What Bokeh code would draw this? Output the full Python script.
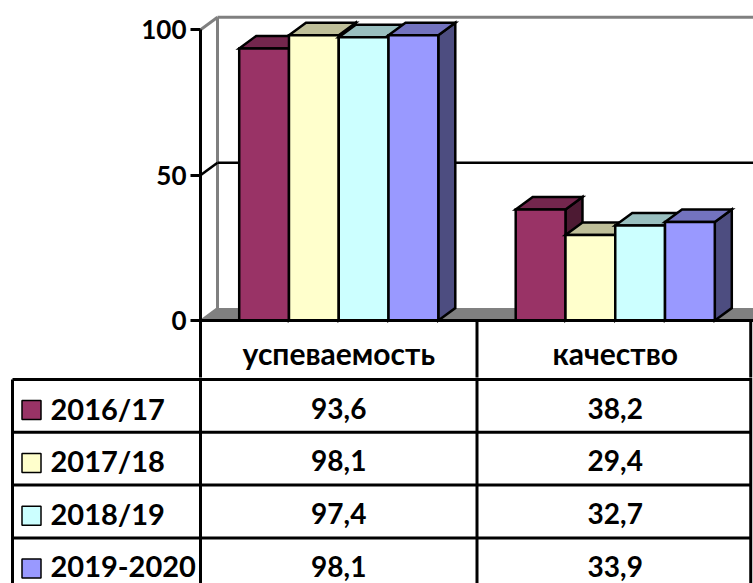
from bokeh.plotting import figure
from bokeh.layouts import column
from bokeh.models import Range1d, FixedTicker
from bokeh.core.properties import value
from bokeh.embed import file_html
from bokeh.resources import INLINE

# ---- data ----
categories = ["успеваемость", "качество"]
years = ["2016/17", "2017/18", "2018/19", "2019-2020"]
uspevaemost = [93.6, 98.1, 97.4, 98.1]
kachestvo = [38.2, 29.4, 32.7, 33.9]
y_ticks = [0, 50, 100]

# ---- styles ----
front_colors = ["#993366", "#FFFFCC", "#CCFFFF", "#9999FF"]
top_colors = ["#73264D", "#BFBF99", "#99BFBF", "#7373BF"]
side_colors = ["#4D1A33", "#80806A", "#668080", "#4D4D80"]
GRAY = "#808080"
FONT = value("Lato")

series = [[uspevaemost[i], kachestvo[i]] for i in range(len(years))]

W = 753
TOP_H = 377
BOT_H = 206
LEFT = 200
ZERO_PX = 320            # page y of value 0
PX_PER_X = (W - LEFT) / 2.0
PX_PER_Y = 2.907
dx = 17 / PX_PER_X
dy = 12.5 / PX_PER_Y
bar_w = 0.18
XEND = 2.2
x_left_b = (12 - LEFT) / PX_PER_X
x_right_b = 1.99

# ---------------- chart (with header row of the table) ----------------
y_top_lo = -(TOP_H - ZERO_PX) / PX_PER_Y
top = figure(width=W, height=TOP_H, output_backend="svg", toolbar_location=None,
             x_range=Range1d(0, 2), y_range=Range1d(y_top_lo, ZERO_PX / PX_PER_Y),
             x_axis_location=None, y_axis_location="left",
             min_border_left=LEFT, min_border_right=0, min_border_top=0, min_border_bottom=0,
             outline_line_color=None, tools="", frame_align=False)
top.grid.visible = False
top.background_fill_color = "white"
top.border_fill_color = "white"

yax = top.yaxis[0]
yax.ticker = FixedTicker(ticks=y_ticks)
yax.bounds = (y_top_lo - 1, max(y_ticks))
yax.axis_line_width = 3
yax.axis_line_color = "black"
yax.major_tick_line_width = 3
yax.major_tick_line_color = "black"
yax.major_tick_out = 10
yax.major_tick_in = 0
yax.minor_tick_line_color = None
yax.major_label_standoff = 4
yax.major_label_text_font = "Lato"
yax.major_label_text_font_style = "bold"
yax.major_label_text_font_size = "26px"
yax.major_label_text_color = "black"

ymax = max(y_ticks)
# floor
top.patch([0, dx, XEND, XEND], [0, dy, dy, 0], fill_color=GRAY, line_color=None)
# walls
top.segment(x0=[dx, 0, dx], y0=[dy, ymax, ymax + dy], x1=[dx, dx, XEND], y1=[ymax + dy, ymax + dy, ymax + dy],
            line_color=GRAY, line_width=3)
top.segment(x0=[0], y0=[0], x1=[dx], y1=[dy], line_color=GRAY, line_width=2)
# gridlines
for t in y_ticks:
    if t in (0, ymax):
        continue
    top.segment(x0=[0, dx], y0=[t, t + dy], x1=[dx, XEND], y1=[t + dy, t + dy],
                line_color="black", line_width=2.5)

# bars
xs, ys, fills = [], [], []
for c in range(len(categories)):
    for j in range(len(years)):
        v = series[j][c]
        xl = c + 0.5 + (j - 1.5) * bar_w - bar_w / 2
        xr = xl + bar_w
        xs.append([xr, xr + dx, xr + dx, xr]); ys.append([0, dy, v + dy, v]); fills.append(side_colors[j])
        xs.append([xl, xr, xr + dx, xl + dx]); ys.append([v, v, v + dy, v + dy]); fills.append(top_colors[j])
        xs.append([xl, xr, xr, xl]); ys.append([0, 0, v, v]); fills.append(front_colors[j])
top.patches(xs, ys, fill_color=fills, line_color="black", line_width=2.5, line_join="miter")

# floor front edge = table top border
top.segment(x0=[0], y0=[0], x1=[XEND], y1=[0], line_color="black", line_width=3)
# table vertical lines in the header row
top.segment(x0=[1, x_right_b], y0=[0, 0], x1=[1, x_right_b], y1=[y_top_lo - 1] * 2,
            line_color="black", line_width=3)
# header texts
hdr_y = -(352 - ZERO_PX) / PX_PER_Y
top.text(x=[c + 0.5 for c in range(len(categories))], y=[hdr_y] * len(categories), text=categories,
         text_font=FONT, text_font_style="bold", text_font_size="30px",
         text_align="center", text_baseline="middle", text_color="black")

# ---------------- data table ----------------
RH = 52.8
LINE0_PX = 379
y_hi = (LINE0_PX - TOP_H) / RH
y_lo = -(TOP_H + BOT_H - LINE0_PX) / RH
bot = figure(width=W, height=BOT_H, output_backend="svg", toolbar_location=None,
             x_range=Range1d(-LEFT / PX_PER_X, (W - LEFT) / PX_PER_X), y_range=Range1d(y_lo, y_hi),
             x_axis_location=None, y_axis_location=None,
             min_border_left=0, min_border_right=0, min_border_top=0, min_border_bottom=0,
             outline_line_color=None, tools="", frame_align=False)
bot.grid.visible = False
bot.background_fill_color = "white"
bot.border_fill_color = "white"

n = len(years)
bot.segment(x0=[x_left_b] * n, y0=[-k for k in range(n)], x1=[x_right_b] * n, y1=[-k for k in range(n)],
            line_color="black", line_width=3)
bot.segment(x0=[x_left_b, 0, 1, x_right_b], y0=[0, y_hi + 1, y_hi + 1, y_hi + 1],
            x1=[x_left_b, 0, 1, x_right_b], y1=[y_lo - 1] * 4, line_color="black", line_width=3)

row_y = [-(i + 0.5) - 0.04 for i in range(n)]
bot.scatter(x=[(31 - LEFT) / PX_PER_X] * n, y=[r - 0.04 for r in row_y], marker="square", size=19,
            fill_color=front_colors, line_color="black", line_width=1.5)
bot.text(x=[(50 - LEFT) / PX_PER_X] * n, y=row_y, text=years,
         text_font=FONT, text_font_style="bold", text_font_size="29px",
         text_align="left", text_baseline="middle", text_color="black")
for c, vals in enumerate([uspevaemost, kachestvo]):
    labels = [f"{v:.1f}".replace(".", ",") for v in vals]
    bot.text(x=[c + 0.5] * n, y=row_y, text=labels,
             text_font=FONT, text_font_style="bold", text_font_size="28px",
             text_align="center", text_baseline="middle", text_color="black")

layout = column(top, bot, spacing=0)
open("out.html", "w").write(file_html(layout, INLINE))
